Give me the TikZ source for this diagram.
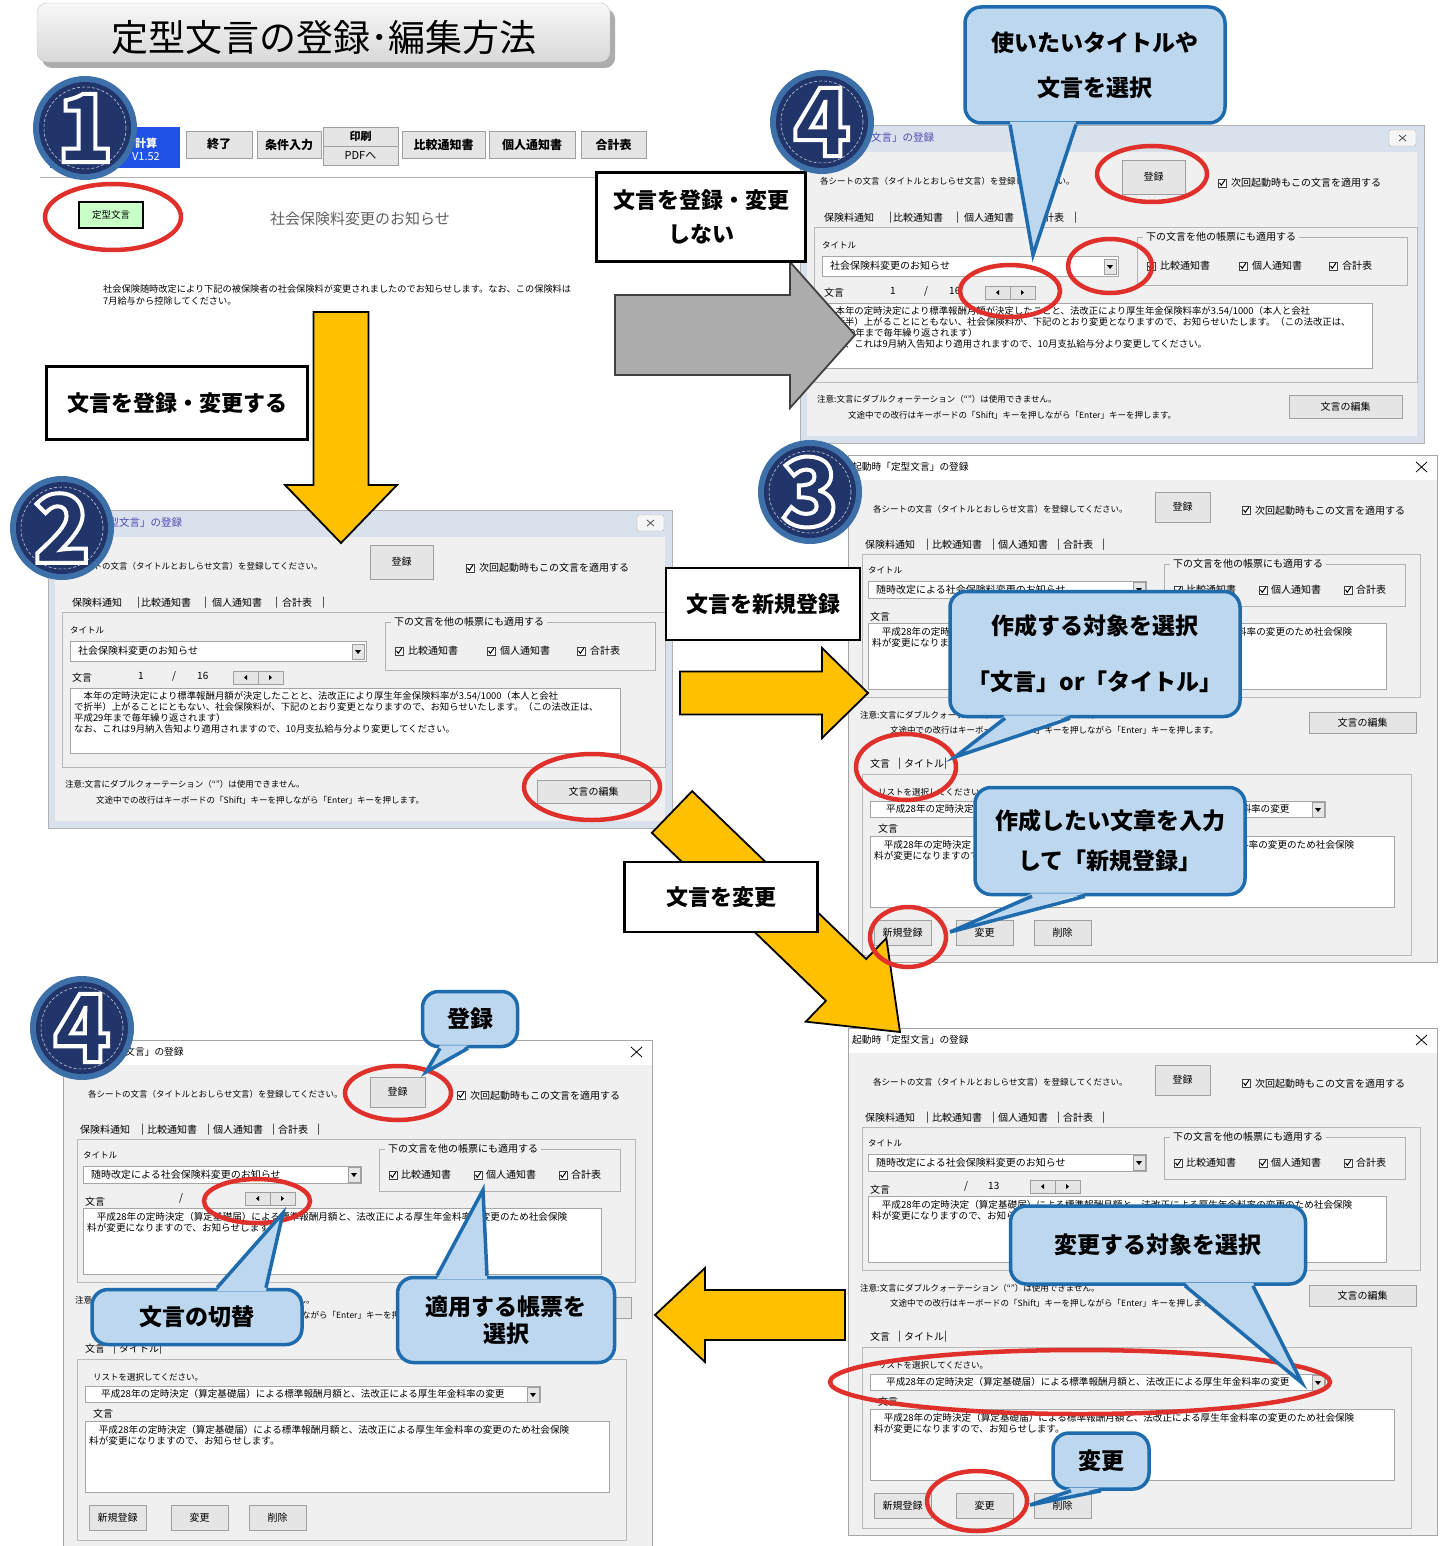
\documentclass[tikz,border=0pt]{standalone}
\usepackage{fontspec}
\setmainfont{Noto Sans CJK JP}
\usetikzlibrary{calc}

\definecolor{dlgbg}{HTML}{F0F0F0}
\definecolor{frameblue}{HTML}{D9E2EC}
\definecolor{navy}{HTML}{22356A}
\definecolor{ringblue}{HTML}{3D6FA8}
\definecolor{callfill}{HTML}{BDD7EE}
\definecolor{calldark}{HTML}{1E6CAE}
\definecolor{arrowyellow}{HTML}{FFC000}
\definecolor{ringred}{HTML}{E0302B}
\definecolor{blubtn}{HTML}{2152E8}

\tikzset{
  ui/.style={font=\fontsize{10}{11}\selectfont, inner sep=0pt, anchor=west},
  uik/.style={font=\fontsize{8.5}{10}\selectfont, inner sep=0pt, anchor=west},
  txt/.style={font=\fontsize{9.6}{11}\selectfont, inner sep=0pt, anchor=west},
  btn/.style={draw=gray!75, fill=gray!20},
  field/.style={draw=gray!70, fill=white},
  redring/.style={draw=ringred, line width=4.5},
  tagbox/.style={draw, line width=2.5, fill=white, align=center, font=\bfseries\fontsize{22}{34}\selectfont},
  callbox/.style={draw=calldark, line width=3.5, fill=callfill, rounded corners=16, align=center, font=\bfseries\fontsize{23}{28}\selectfont},
  callptr/.style={draw=calldark, line width=3.5, line join=miter},
  numfont/.style={font=\bfseries\fontsize{94}{94}\selectfont, inner sep=0pt},
  chk/.pic={\draw[gray!50!black, fill=white] (0,0) rectangle (8,8);
            \draw[line width=1] (1.5,3.8) -- (3.3,6.3) -- (6.8,1.2);},
  drop/.pic={\draw[btn] (0,0) rectangle (12,15); \fill (3,6) -- (9,6) -- (6,10) -- cycle;},
  spin/.pic={\draw[btn] (0,0) rectangle (25,13); \draw[btn] (25,0) rectangle (50,13);
             \fill (11,6.5) -- (14,4) -- (14,9) -- cycle; \fill (39,6.5) -- (36,4) -- (36,9) -- cycle;},
}

\begin{document}
\begin{tikzpicture}[x=1pt, y=-1pt]
  \useasboundingbox (0,0) rectangle (1445,1546);
  \fill[white] (0,0) rectangle (1445,1546);

  % Título
  \fill[gray!65, rounded corners=10] (42,9) rectangle (615,68);
  \shade[top color=gray!6, bottom color=gray!30, draw=gray!45, rounded corners=10] (37,3) rectangle (610,62);
  \node[font=\fontsize{37}{40}\selectfont] (title) at (324,37) {定型文言の登録･編集方法};

  % Pantalla 1
  \fill[blubtn] (50,127) rectangle (180,168);
  \node[font=\bfseries\fontsize{11}{12}\selectfont, text=white] (calc) at (124,143) {保険料の計算};
  \node[font=\fontsize{11}{12}\selectfont, text=white] (ver) at (146,157) {V1.52};
  \foreach \bx/\bw/\bt [count=\q] in {186/66/終了, 257/64/条件入力, 402/83/比較通知書, 489/86/個人通知書, 581/65/合計表} {
    \draw[btn] (\bx,131) rectangle ++(\bw,27);
    \node[font=\bfseries\fontsize{12}{13}\selectfont] (tb\q) at (\bx+\bw/2,144.5) {\bt};
  }
  \draw[btn] (323,127) rectangle (398,146);
  \node[font=\bfseries\fontsize{11}{12}\selectfont] (print) at (360.5,136.5) {印刷};
  \draw[btn] (323,146) rectangle (398,165);
  \node[font=\fontsize{11}{12}\selectfont] (pdf) at (360.5,155.5) {PDFへ};
  \draw[gray!60] (40,177) -- (600,177);
  \draw[line width=1.5, fill=green!22] (79,202) rectangle (143,228);
  \node[font=\fontsize{9.5}{10}\selectfont] (teikei) at (111,215) {定型文言};
  \node[font=\fontsize{15}{16}\selectfont, text=gray!75!black] (osirase) at (360,219) {社会保険料変更のお知らせ};
  \node[font=\fontsize{9.2}{12}\selectfont, anchor=west, inner sep=0pt, align=left] (aviso) at (103,295)
    {社会保険随時改定により下記の被保険者の社会保険料が変更されましたのでお知らせします。なお、この保険料は\\7月給与から控除してください。};

  % Diálogos (Windows 7)
  \foreach \x/\y [count=\di] in {800/125, 48/510} {
    \begin{scope}[shift={(\x,\y)}]
      \draw[gray!60, fill=frameblue] (0,0) rectangle (624,318);
      \fill[dlgbg] (7,27) rectangle (617,311);
      \node[uik, font=\fontsize{10.5}{11}\selectfont, text=gray!60!blue] (w\di-t) at (8,13) {起動時「定型文言」の登録};
      \draw[gray!60, fill=gray!8, rounded corners=2] (589,5) rectangle (616,21);
      \draw[gray!60!black, thick] (599,10) -- (606,16) (599,16) -- (606,10);
      \node[uik] (w\di-inst) at (20,56) {各シートの文言（タイトルとおしらせ文言）を登録してください。};
      \draw[btn] (322,35) rectangle (385,69);
      \node[ui, anchor=center] (w\di-reg) at (353.5,52) {登録};
      \pic at (418,54) {chk};
      \node[ui] (w\di-next) at (431,58) {次回起動時もこの文言を適用する};
      \foreach \tx/\tn [count=\q] in {24/保険料通知, 89/|, 93/比較通知書, 156/|, 164/個人通知書, 227/|, 234/合計表, 274/|}
        \node[ui] (w\di-tab\q) at (\tx,93) {\tn};
      \draw[gray!55] (14,102) rectangle (617,257);
      \node[uik] (w\di-tl) at (22,120) {タイトル};
      \draw[field] (22,131) rectangle (318,151);
      \pic at (304,134) {drop};
      \node[ui] (w\di-tt) at (30,141) {社会保険料変更のお知らせ};
      \draw[gray!60] (337,112) rectangle (607,160);
      \node[ui, fill=dlgbg, inner xsep=3pt] (w\di-grp) at (343,112) {下の文言を他の帳票にも適用する};
      \foreach \cx/\ct [count=\q] in {347/比較通知書, 439/個人通知書, 529/合計表} {
        \pic at (\cx,137) {chk};
        \node[ui] (w\di-c\q) at (\cx+13,141) {\ct};
      }
      \node[ui] (w\di-bl) at (24,168) {文言};
      \node[ui] (w\di-n1) at (90,166) {1};
      \node[ui] (w\di-sl) at (124,166) {/};
      \node[ui] (w\di-n2) at (149,166) {16};
      \pic at (185,161) {spin};
      \draw[field] (22,178) rectangle (572,243);
      \node[txt, font=\fontsize{9.4}{11}\selectfont, anchor=north west, align=left] (w\di-body) at (26,181)
        {　本年の定時決定により標準報酬月額が決定したことと、法改正により厚生年金保険料率が3.54/1000（本人と会社\\
         で折半）上がることにともない、社会保険料が、下記のとおり変更となりますので、お知らせいたします。（この法改正は、\\
         平成29年まで毎年繰り返されます）\\
         なお、これは9月納入告知より適用されますので、10月支払給与分より変更してください。};
      \node[uik] (w\di-nt1) at (17,274) {注意:文言にダブルクォーテーション（“”）は使用できません。};
      \node[uik] (w\di-nt2) at (48,290) {文途中での改行はキーボードの「Shift」キーを押しながら「Enter」キーを押します。};
      \draw[btn] (489,270) rectangle (602,293);
      \node[ui, anchor=center] (w\di-ed) at (545.5,281.5) {文言の編集};
    \end{scope}
  }

  % Diálogos (Windows 10)
  \foreach \x/\y/\cnt [count=\di] in {848/455/{}, 63/1040/{}, 848/1028/13} {
    \begin{scope}[shift={(\x,\y)}]
      \draw[gray!70, fill=dlgbg] (0,0) rectangle (589,507);
      \fill[white] (0.5,0.5) rectangle (588.5,25);
      \node[uik, font=\fontsize{9.7}{10}\selectfont] (d\di-t) at (4,12) {起動時「定型文言」の登録};
      \draw[thick] (568,7) -- (579,17) (568,17) -- (579,7);
      \node[uik] (d\di-inst) at (25,54) {各シートの文言（タイトルとおしらせ文言）を登録してください。};
      \draw[btn] (307,37) rectangle (362,67);
      \node[ui, anchor=center] (d\di-reg) at (334.5,52) {登録};
      \pic at (394,51) {chk};
      \node[ui] (d\di-next) at (407,56) {次回起動時もこの文言を適用する};
      \foreach \tx/\tn [count=\q] in {17/保険料通知, 78/|, 84/比較通知書, 144/|, 150/個人通知書, 209/|, 215/合計表, 254/|}
        \node[ui] (d\di-tab\q) at (\tx,90) {\tn};
      \draw[gray!55] (14,99) rectangle (572,242);
      \node[uik] (d\di-tl) at (20,115) {タイトル};
      \draw[field] (20,126) rectangle (298,143);
      \pic at (285,127) {drop};
      \node[ui] (d\di-tt) at (28,135) {随時改定による社会保険料変更のお知らせ};
      \draw[gray!60] (316,109) rectangle (557,151);
      \node[ui, fill=dlgbg, inner xsep=3pt] (d\di-grp) at (322,109) {下の文言を他の帳票にも適用する};
      \foreach \cx/\ct [count=\q] in {326/比較通知書, 411/個人通知書, 496/合計表} {
        \pic at (\cx,131) {chk};
        \node[ui] (d\di-c\q) at (\cx+12,135) {\ct};
      }
      \node[ui] (d\di-bl) at (22,162) {文言};
      \node[ui] (d\di-sl) at (116,158) {/};
      \node[ui] (d\di-cn) at (140,158) {\cnt};
      \pic at (182,152) {spin};
      \draw[field] (20,168) rectangle (538,234);
      \node[txt, anchor=north west, align=left] (d\di-body) at (24,172)
        {　平成28年の定時決定（算定基礎届）による標準報酬月額と、法改正による厚生年金料率の変更のため社会保険\\料が変更になりますので、お知らせします。};
      \node[uik] (d\di-nt1) at (12,260) {注意:文言にダブルクォーテーション（“”）は使用できません。};
      \node[uik] (d\di-nt2) at (42,275) {文途中での改行はキーボードの「Shift」キーを押しながら「Enter」キーを押します。};
      \draw[btn] (461,257) rectangle (568,278);
      \node[ui, anchor=center] (d\di-ed) at (514.5,267.5) {文言の編集};
      \foreach \tx/\tn [count=\q] in {22/文言, 50/|, 56/タイトル, 96/|}
        \node[ui] (d\di-lt\q) at (\tx,309) {\tn};
      \draw[gray!55] (14,319) rectangle (563,500);
      \node[uik] (d\di-ls) at (30,337) {リストを選択してください。};
      \draw[field] (22,346) rectangle (477,362);
      \pic at (464,347) {drop};
      \node[txt] (d\di-lc) at (38,354) {平成28年の定時決定（算定基礎届）による標準報酬月額と、法改正による厚生年金料率の変更};
      \node[ui] (d\di-bl2) at (30,374) {文言};
      \draw[field] (22,381) rectangle (546,452);
      \node[txt, anchor=north west, align=left] (d\di-body2) at (26,385)
        {　平成28年の定時決定（算定基礎届）による標準報酬月額と、法改正による厚生年金料率の変更のため社会保険\\料が変更になりますので、お知らせします。};
      \foreach \bx/\bt [count=\q] in {26/新規登録, 108/変更, 186/削除} {
        \draw[btn] (\bx,465) rectangle ++(57,25);
        \node[ui, anchor=center] (d\di-b\q) at (\bx+28.5,477.5) {\bt};
      }
    \end{scope}
  }

  % Flechas
  \foreach \ax/\ay/\bx/\by/\sw/\hw/\hl/\fc/\dc in {341/312/341/543/27.5/56/58/arrowyellow/black,
      615/335/855/335/40/73/65/gray!65/black!75, 680/693/868/693/21.5/45/46/arrowyellow/black,
      672/812/900/1032/29/58/75/arrowyellow/black, 845/1315/655/1315/25/47/50/arrowyellow/black} {
    \coordinate (A) at (\ax,\ay);
    \coordinate (B) at (\bx,\by);
    \coordinate (H) at ($(B)!\hl pt!(A)$);
    \filldraw[fill=\fc, draw=\dc, line width=1.8, line join=miter]
      ($(A)!\sw pt!90:(B)$) -- ($(H)!\sw pt!90:(B)$) -- ($(H)!\hw pt!90:(B)$) -- (B)
      -- ($(H)!\hw pt!-90:(B)$) -- ($(H)!\sw pt!-90:(B)$) -- ($(A)!\sw pt!-90:(B)$) -- cycle;
  }

  % Rótulos
  \node[tagbox, minimum width=209, minimum height=89] (noreg) at (701,217) {文言を登録・変更\\しない};
  \node[tagbox, minimum width=261, minimum height=73] (reg) at (177,403) {文言を登録・変更する};
  \node[tagbox, minimum width=194, minimum height=72] (new) at (763,604) {文言を新規登録};
  \node[tagbox, minimum width=193, minimum height=70] (chg) at (721,897) {文言を変更};

  % Círculos numerados
  \foreach \cx/\cy/\dg [count=\cn] in {85/128/1, 822/122/4, 62/528/2, 810/492/3, 82/1028/4} {
    \fill[ringblue] (\cx,\cy) circle (52);
    \fill[navy] (\cx,\cy) circle (46);
    \draw[white!75!navy, densely dashed, line width=0.6] (\cx,\cy) circle (41);
    \node[numfont, text=navy] (n\cn) at (\cx,\cy)
      {\special{pdf:literal direct 2 Tr 4 w 1 1 1 RG}\dg\special{pdf:literal direct 0 Tr}};
  }

  % Elipses rojas
  \foreach \elx/\ely/\erx/\ery in {113/217/68/33, 1152/174/55/28, 1110/266/42/27, 1010/291/50/26,
      592/787/68/33, 906/767/50/33, 908/937/38/30, 398/1093/53/27, 257/1201/53/22,
      1080/1382/250/32, 977/1501/50/30}
    \draw[redring] (\elx,\ely) ellipse ({\erx} and {\ery});

  % Globos
  \coordinate (p1) at (1033,255);
  \coordinate (p2) at (955,757);
  \coordinate (p3) at (950,932);
  \coordinate (p4) at (426,1072);
  \coordinate (p5) at (283,1213);
  \coordinate (p6) at (483,1190);
  \coordinate (p7) at (1302,1383);
  \coordinate (p8) at (1030,1505);

  \node[callbox, minimum width=260, minimum height=116, font=\bfseries\fontsize{23}{45}\selectfont] (c1) at (1095,65) {使いたいタイトルや\\文言を選択};
  \fill[callfill] ([xshift=-85pt,yshift=3pt]c1.south) -- (p1) -- ([xshift=-19pt,yshift=3pt]c1.south) -- cycle;
  \draw[callptr] ([xshift=-85pt]c1.south) -- (p1) -- ([xshift=-19pt]c1.south);

  \node[callbox, minimum width=290, minimum height=125, font=\bfseries\fontsize{23}{56}\selectfont] (c2) at (1095,654) {作成する対象を選択\\「文言」or「タイトル」};
  \fill[callfill] ([xshift=-90pt,yshift=3pt]c2.south) -- (p2) -- ([xshift=-25pt,yshift=3pt]c2.south) -- cycle;
  \draw[callptr] ([xshift=-90pt]c2.south) -- (p2) -- ([xshift=-25pt]c2.south);

  \node[callbox, minimum width=270, minimum height=107, font=\bfseries\fontsize{23}{40}\selectfont] (c3) at (1110,841) {作成したい文章を入力\\して「新規登録」};
  \fill[callfill] ([xshift=-78pt,yshift=3pt]c3.south) -- (p3) -- ([xshift=-25pt,yshift=3pt]c3.south) -- cycle;
  \draw[callptr] ([xshift=-78pt]c3.south) -- (p3) -- ([xshift=-25pt]c3.south);

  \node[callbox, minimum width=95, minimum height=55] (c4) at (470,1019) {登録};
  \fill[callfill] ([xshift=-30pt,yshift=3pt]c4.south) -- (p4) -- ([xshift=-2pt,yshift=3pt]c4.south) -- cycle;
  \draw[callptr] ([xshift=-30pt]c4.south) -- (p4) -- ([xshift=-2pt]c4.south);

  \node[callbox, minimum width=210, minimum height=55] (c5) at (197,1317) {文言の切替};
  \fill[callfill] ([xshift=20pt,yshift=-3pt]c5.north) -- (p5) -- ([xshift=69pt,yshift=-3pt]c5.north) -- cycle;
  \draw[callptr] ([xshift=20pt]c5.north) -- (p5) -- ([xshift=69pt]c5.north);

  \node[callbox, minimum width=217, minimum height=85, font=\bfseries\fontsize{23}{27}\selectfont] (c6) at (506,1320) {適用する帳票を\\選択};
  \fill[callfill] ([xshift=-69pt,yshift=-3pt]c6.north) -- (p6) -- ([xshift=-19pt,yshift=-3pt]c6.north) -- cycle;
  \draw[callptr] ([xshift=-69pt]c6.north) -- (p6) -- ([xshift=-19pt]c6.north);

  \node[callbox, minimum width=295, minimum height=78] (c7) at (1158,1245) {変更する対象を選択};
  \fill[callfill] ([xshift=27pt,yshift=3pt]c7.south) -- (p7) -- ([xshift=95pt,yshift=3pt]c7.south) -- cycle;
  \draw[callptr] ([xshift=27pt]c7.south) -- (p7) -- ([xshift=95pt]c7.south);

  \node[callbox, minimum width=96, minimum height=56] (c8) at (1101,1461) {変更};
  \fill[callfill] ([xshift=-30pt,yshift=3pt]c8.south) -- (p8) -- ([xshift=0pt,yshift=3pt]c8.south) -- cycle;
  \draw[callptr] ([xshift=-30pt]c8.south) -- (p8) -- ([xshift=0pt]c8.south);
\end{tikzpicture}
\end{document}
